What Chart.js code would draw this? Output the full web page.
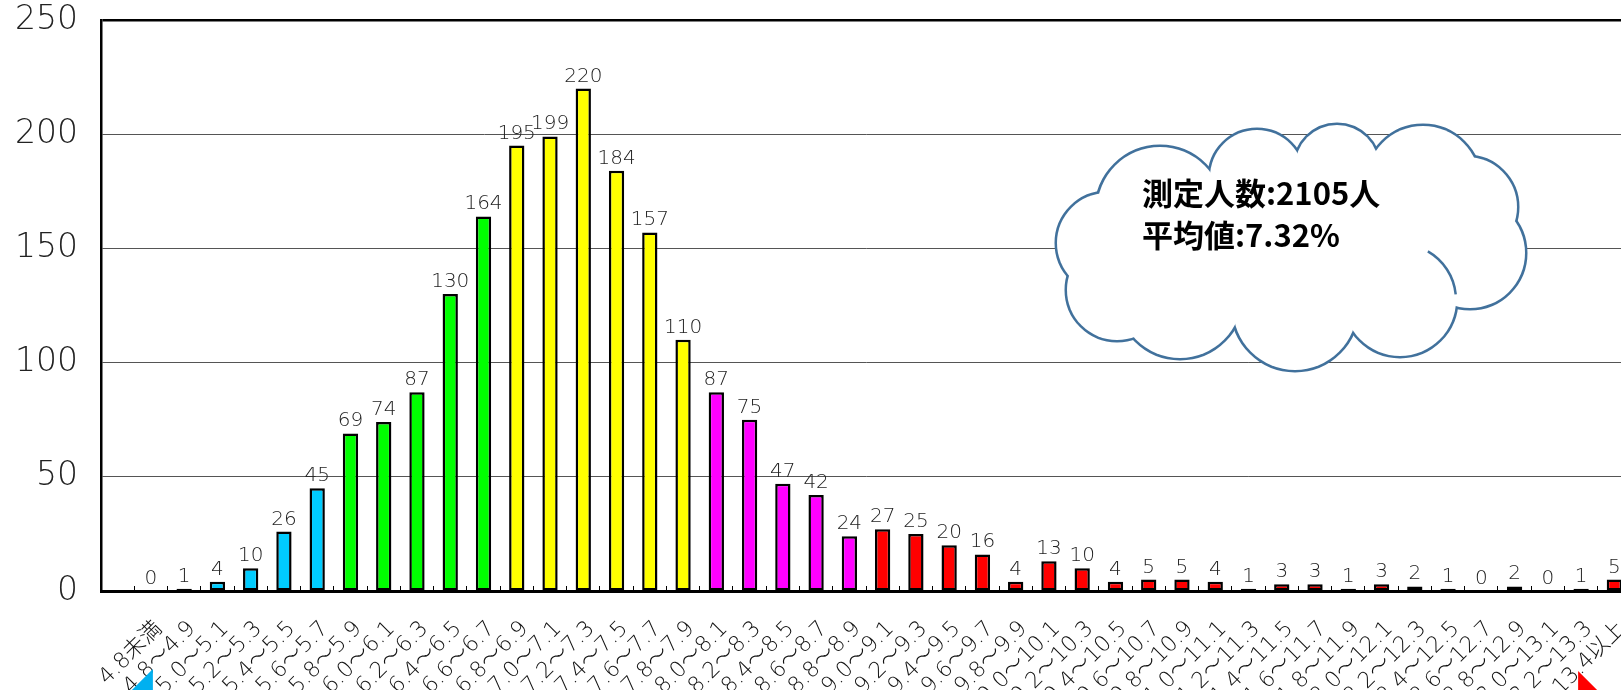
<!DOCTYPE html>
<html>
<head>
<meta charset="utf-8">
<script src="https://cdn.jsdelivr.net/npm/chart.js@4"></script>
<style>
  html, body { margin: 0; padding: 0; overflow: hidden; background: #fff; }
  #chart { position: absolute; left: 0; top: 0; }
</style>
</head>
<body>
<canvas id="chart" width="1640" height="760"></canvas>
<script>
// first slot is the empty gap the original leaves before "4.8未満"
const categories = [
  '', '4.8未満', '4.8～4.9', '5.0～5.1', '5.2～5.3', '5.4～5.5', '5.6～5.7', '5.8～5.9',
  '6.0～6.1', '6.2～6.3', '6.4～6.5', '6.6～6.7', '6.8～6.9', '7.0～7.1', '7.2～7.3',
  '7.4～7.5', '7.6～7.7', '7.8～7.9', '8.0～8.1', '8.2～8.3', '8.4～8.5', '8.6～8.7',
  '8.8～8.9', '9.0～9.1', '9.2～9.3', '9.4～9.5', '9.6～9.7', '9.8～9.9', '10.0～10.1',
  '10.2～10.3', '10.4～10.5', '10.6～10.7', '10.8～10.9', '11.0～11.1', '11.2～11.3',
  '11.4～11.5', '11.6～11.7', '11.8～11.9', '12.0～12.1', '12.2～12.3', '12.4～12.5',
  '12.6～12.7', '12.8～12.9', '13.0～13.1', '13.2～13.3', '13.4以上'
];
const counts = [
  null, 0, 1, 4, 10, 26, 45, 69, 74, 87, 130, 164, 195, 199, 220, 184, 157, 110,
  87, 75, 47, 42, 24, 27, 25, 20, 16, 4, 13, 10, 4, 5, 5, 4, 1, 3, 3, 1, 3, 2, 1,
  0, 2, 0, 1, 5
];
const yTicks = [0, 50, 100, 150, 200, 250];
const noteLines = ['測定人数:2105人', '平均値:7.32%'];

const CYAN = '#00CCFF', GREEN = '#00FF00', YELLOW = '#FFFF00', MAGENTA = '#FF00FF', RED = '#FF0000';
function barColor(i) {
  if (i <= 6) return CYAN;
  if (i <= 11) return GREEN;
  if (i <= 17) return YELLOW;
  if (i <= 22) return MAGENTA;
  return RED;
}

const FONT = '"DejaVu Sans", "Noto Sans CJK JP", sans-serif';

const valueLabels = {
  id: 'valueLabels',
  afterDatasetsDraw(chart) {
    const ctx = chart.ctx;
    const meta = chart.getDatasetMeta(0);
    ctx.save();
    ctx.font = '300 20px ' + FONT;
    ctx.fillStyle = '#222';
    ctx.textAlign = 'center';
    ctx.textBaseline = 'alphabetic';
    meta.data.forEach((bar, i) => {
      if (counts[i] == null) return;
      ctx.fillText(String(counts[i]), bar.x, bar.y - 7);
    });
    ctx.restore();
  }
};

// cloud callout + the two arrow tips peeking in at the bottom
const decorations = {
  id: 'decorations',
  afterDraw(chart) {
    const ctx = chart.ctx;
    const x = chart.scales.x;
    ctx.save();

    const lumps = [
      [1160, 210, 63], [1257, 177, 47], [1337, 167, 42], [1423, 183, 57],
      [1467, 207, 50], [1470, 253, 55], [1400, 300, 56], [1295, 308, 62],
      [1180, 296, 62], [1117, 290, 50], [1107, 243, 50]
    ];
    ctx.strokeStyle = '#41719C';
    ctx.lineWidth = 5;
    lumps.forEach(([cx, cy, r]) => {
      ctx.beginPath(); ctx.arc(cx, cy, r, 0, Math.PI * 2); ctx.stroke();
    });
    ctx.fillStyle = '#fff';
    lumps.forEach(([cx, cy, r]) => {
      ctx.beginPath(); ctx.arc(cx, cy, r, 0, Math.PI * 2); ctx.fill();
    });
    ctx.beginPath(); ctx.ellipse(1290, 250, 190, 70, 0, 0, Math.PI * 2); ctx.fill();

    // inner crease of the cloud shape
    ctx.lineWidth = 2.5;
    ctx.beginPath(); ctx.arc(1400, 300, 56, -1.05, -0.1); ctx.stroke();

    ctx.fillStyle = '#000';
    ctx.font = 'bold 31px "Noto Sans CJK JP", sans-serif';
    ctx.textAlign = 'left';
    ctx.fillText(noteLines[0], 1142, 205);
    ctx.fillText(noteLines[1], 1142, 247);

    const bx = x.getPixelForValue(1) + 2;
    ctx.fillStyle = '#00B0F0';
    ctx.beginPath(); ctx.moveTo(bx, 669); ctx.lineTo(bx, 700); ctx.lineTo(bx - 31, 700); ctx.closePath(); ctx.fill();
    const rx = x.getPixelForValue(categories.length - 2) - 3;
    ctx.fillStyle = '#FF0000';
    ctx.beginPath(); ctx.moveTo(rx, 671); ctx.lineTo(rx, 700); ctx.lineTo(rx + 29, 700); ctx.closePath(); ctx.fill();
    ctx.restore();
  }
};

new Chart(document.getElementById('chart'), {
  type: 'bar',
  data: {
    labels: categories,
    datasets: [{
      data: counts,
      backgroundColor: counts.map((v, i) => barColor(i)),
      borderColor: '#000',
      borderWidth: 2.5,
      borderSkipped: false,
      categoryPercentage: 1,
      barPercentage: 0.46
    }]
  },
  options: {
    responsive: false,
    animation: false,
    layout: { padding: { top: 20, right: 9, left: 0, bottom: 0 } },
    plugins: { legend: { display: false }, tooltip: { enabled: false } },
    scales: {
      x: {
        afterFit: s => { s.height = 169; s.paddingLeft = 0; s.paddingRight = 0; },
        grid: { display: true, drawOnChartArea: false, drawTicks: true, tickLength: -5, color: '#000', lineWidth: 1, offset: true },
        border: { display: true, color: '#000', width: 3 },
        ticks: {
          autoSkip: false, maxRotation: 45, minRotation: 45, padding: 30, labelOffset: 8,
          color: '#111', font: { family: FONT, size: 22, weight: 300 }
        }
      },
      y: {
        min: 0,
        max: 250,
        afterFit: s => { s.width = 101; s.paddingTop = 0; s.paddingBottom = 0; },
        afterBuildTicks: s => { s.ticks = yTicks.map(v => ({ value: v })); },
        grid: {
          drawTicks: false,
          color: c => c.tick && c.tick.value === 250 ? '#000' : '#555',
          lineWidth: c => c.tick && c.tick.value === 250 ? 2.5 : 1
        },
        border: { display: true, color: '#000', width: 2.5 },
        ticks: { padding: 23, color: '#222', font: { family: FONT, size: 33, weight: 300 } }
      }
    }
  },
  plugins: [valueLabels, decorations]
});
</script>
</body>
</html>
